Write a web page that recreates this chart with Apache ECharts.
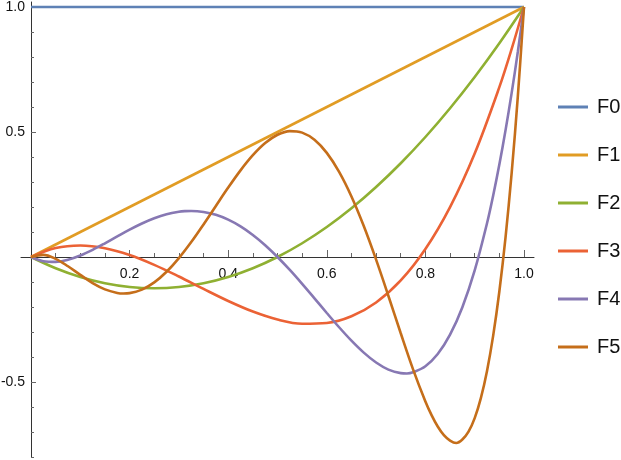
<!DOCTYPE html>
<html>
<head>
<meta charset="utf-8">
<script src="https://cdn.jsdelivr.net/npm/echarts@6/dist/echarts.min.js"></script>
<style>
html,body{margin:0;padding:0;background:#fff;}
#chart{width:621px;height:460px;}
</style>
</head>
<body>
<div id="chart"></div>
<script>
// ---- data ----
const seriesNames = ['F0', 'F1', 'F2', 'F3', 'F4', 'F5'];
const xF0 = [0, 1];
const f0 = [1, 1];
const xF1 = [0, 1];
const f1 = [0, 1];
const xF2 = [0, 0.05, 0.1, 0.15, 0.2, 0.25, 0.3, 0.35, 0.4, 0.45, 0.5, 0.55, 0.6, 0.65, 0.7, 0.75, 0.8, 0.85, 0.9, 0.95, 1.0];
const f2 = [0, -0.045, -0.08, -0.105, -0.12, -0.125, -0.12, -0.105, -0.08, -0.045, 0, 0.055, 0.12, 0.195, 0.28, 0.375, 0.48, 0.595, 0.72, 0.855, 1];
const xF3 = [0, 0.05, 0.1, 0.15, 0.2, 0.25, 0.3, 0.35, 0.4, 0.45, 0.5, 0.55, 0.6, 0.65, 0.7, 0.75, 0.8, 0.85, 0.9, 0.95, 0.975, 1.0];
const f3 = [0, 0.0358, 0.046, 0.0353, 0.008, -0.0313, -0.078, -0.1278, -0.176, -0.2183, -0.25, -0.2668, -0.264, -0.2373, -0.182, -0.0938, 0.032, 0.1998, 0.414, 0.6793, 0.8324, 1];
const xF4 = [0, 0.025, 0.05, 0.075, 0.1, 0.125, 0.15, 0.175, 0.2, 0.225, 0.25, 0.275, 0.3, 0.3125, 0.325, 0.35, 0.375, 0.4, 0.425, 0.45, 0.475, 0.5, 0.525, 0.55, 0.575, 0.6, 0.625, 0.65, 0.675, 0.7, 0.725, 0.75, 0.7625, 0.775, 0.8, 0.825, 0.85, 0.875, 0.9, 0.925, 0.9375, 0.95, 0.9625, 0.975, 0.9875, 1.0];
const f4 = [0, -0.0168, -0.0195, -0.0109, 0.006, 0.0287, 0.0548, 0.0823, 0.1093, 0.1339, 0.1548, 0.1708, 0.1809, 0.1834, 0.1842, 0.1802, 0.1686, 0.1493, 0.1223, 0.0880, 0.0470, 0, -0.0519, -0.1075, -0.1654, -0.2239, -0.2810, -0.3347, -0.3826, -0.4221, -0.4504, -0.4645, -0.4660, -0.4612, -0.4370, -0.3882, -0.3108, -0.2008, -0.0537, 0.1350, 0.2463, 0.3701, 0.5065, 0.6566, 0.8208, 1];
const xF5 = [0, 0.025, 0.05, 0.075, 0.1, 0.125, 0.15, 0.175, 0.1875, 0.2, 0.225, 0.25, 0.275, 0.3, 0.325, 0.35, 0.375, 0.4, 0.425, 0.45, 0.475, 0.5, 0.525, 0.55, 0.575, 0.6, 0.625, 0.65, 0.675, 0.7, 0.725, 0.75, 0.775, 0.8, 0.8125, 0.825, 0.8375, 0.85, 0.8625, 0.875, 0.8875, 0.9, 0.9125, 0.925, 0.9375, 0.95, 0.9625, 0.975, 0.9875, 1.0];
const f5 = [0, 0.0086, -0.0073, -0.0370, -0.0716, -0.1043, -0.1296, -0.1438, -0.1460, -0.1445, -0.1305, -0.1017, -0.0591, -0.0045, 0.0596, 0.1304, 0.2043, 0.2776, 0.3465, 0.4071, 0.4557, 0.4889, 0.5036, 0.4975, 0.4687, 0.4164, 0.3405, 0.2422, 0.1239, -0.0106, -0.1559, -0.3051, -0.4494, -0.5779, -0.6324, -0.6780, -0.7127, -0.7345, -0.7440, -0.7300, -0.6988, -0.6446, -0.5646, -0.4557, -0.3147, -0.1380, 0.0778, 0.3369, 0.6426, 1];

const xTickLabels = [0.2, 0.4, 0.6, 0.8, 1.0];
const xMinorTicks = [0.05, 0.1, 0.15, 0.25, 0.3, 0.35, 0.45, 0.5, 0.55, 0.65, 0.7, 0.75, 0.85, 0.9, 0.95];
const yTickLabels = [-0.5, 0.5, 1.0];
const yMinorTicks = [-0.8, -0.7, -0.6, -0.4, -0.3, -0.2, -0.1, 0.1, 0.2, 0.3, 0.4, 0.6, 0.7, 0.8, 0.9];

const colors = ['#5E81B5', '#E19C24', '#8FB032', '#EB6235', '#8778B3', '#C56E1A'];

function pairs(xs, ys) { return xs.map((x, i) => [x, ys[i]]); }
const seriesData = [
  pairs(xF0, f0), pairs(xF1, f1), pairs(xF2, f2),
  pairs(xF3, f3), pairs(xF4, f4), pairs(xF5, f5)
];

const FONT = '"Liberation Sans", Arial, sans-serif';
const AXIS_COLOR = '#333';
const TICK_COLOR = '#666';

// layout: grid spans the axis extents; axes are shifted onto x=0 / y=0 with offset
const GRID = { left: 21, top: 2, width: 513, height: 455 };
const X_MIN = -0.0203, X_MAX = 1.0203, Y_MIN = -0.8, Y_MAX = 1.02;
const xZeroOffset = -Math.round((0 - X_MIN) / (X_MAX - X_MIN) * GRID.width);   // left axis moved right
const yZeroOffset = -Math.round((0 - Y_MIN) / (Y_MAX - Y_MIN) * GRID.height);  // bottom axis moved up

const chart = echarts.init(document.getElementById('chart'), null, {renderer: 'canvas'});
chart.setOption({
  animation: false,
  backgroundColor: '#fff',
  grid: Object.assign({ containLabel: false, outerBoundsMode: 'none' }, GRID),
  legend: {
    data: seriesNames,
    orient: 'vertical',
    left: 558, top: 96,
    padding: 0,
    icon: 'rect',
    itemWidth: 30, itemHeight: 3,
    itemGap: 26,
    textStyle: { fontFamily: FONT, fontSize: 20, color: '#111', lineHeight: 22, padding: [0, 0, 0, 4] }
  },
  xAxis: [{
    type: 'value', min: X_MIN, max: X_MAX, position: 'bottom', offset: yZeroOffset,
    axisLine: { show: true, onZero: false, lineStyle: { color: AXIS_COLOR, width: 1 } },
    axisTick: { show: true, inside: true, length: 7, customValues: xTickLabels, lineStyle: { color: TICK_COLOR } },
    axisLabel: { show: true, customValues: xTickLabels, margin: 10, fontFamily: FONT, fontSize: 14, color: '#111',
      formatter: v => Number(v).toFixed(1) },
    splitLine: { show: false }
  }, {
    type: 'value', min: X_MIN, max: X_MAX, position: 'bottom', offset: yZeroOffset,
    axisLine: { show: false, onZero: false },
    axisTick: { show: true, inside: true, length: 4, customValues: xMinorTicks, lineStyle: { color: TICK_COLOR } },
    axisLabel: { show: false },
    splitLine: { show: false }
  }],
  yAxis: [{
    type: 'value', min: Y_MIN, max: Y_MAX, position: 'left', offset: xZeroOffset,
    axisLine: { show: true, onZero: false, lineStyle: { color: AXIS_COLOR, width: 1 } },
    axisTick: { show: true, inside: true, length: 5, customValues: yTickLabels, lineStyle: { color: TICK_COLOR } },
    axisLabel: { show: true, customValues: yTickLabels, margin: 6, fontFamily: FONT, fontSize: 14, color: '#111',
      formatter: v => Number(v).toFixed(1) },
    splitLine: { show: false }
  }, {
    type: 'value', min: Y_MIN, max: Y_MAX, position: 'left', offset: xZeroOffset,
    axisLine: { show: false, onZero: false },
    axisTick: { show: true, inside: true, length: 3, customValues: yMinorTicks, lineStyle: { color: TICK_COLOR } },
    axisLabel: { show: false },
    splitLine: { show: false }
  }],
  series: seriesNames.map((name, i) => ({
    name: name,
    type: 'line',
    xAxisIndex: 0, yAxisIndex: 0,
    data: seriesData[i],
    smooth: 0.35,
    showSymbol: false,
    symbol: 'none',
    color: colors[i],
    lineStyle: { color: colors[i], width: 2.6 },
    emphasis: { disabled: true },
    z: 2 + i
  }))
});
</script>
</body>
</html>
